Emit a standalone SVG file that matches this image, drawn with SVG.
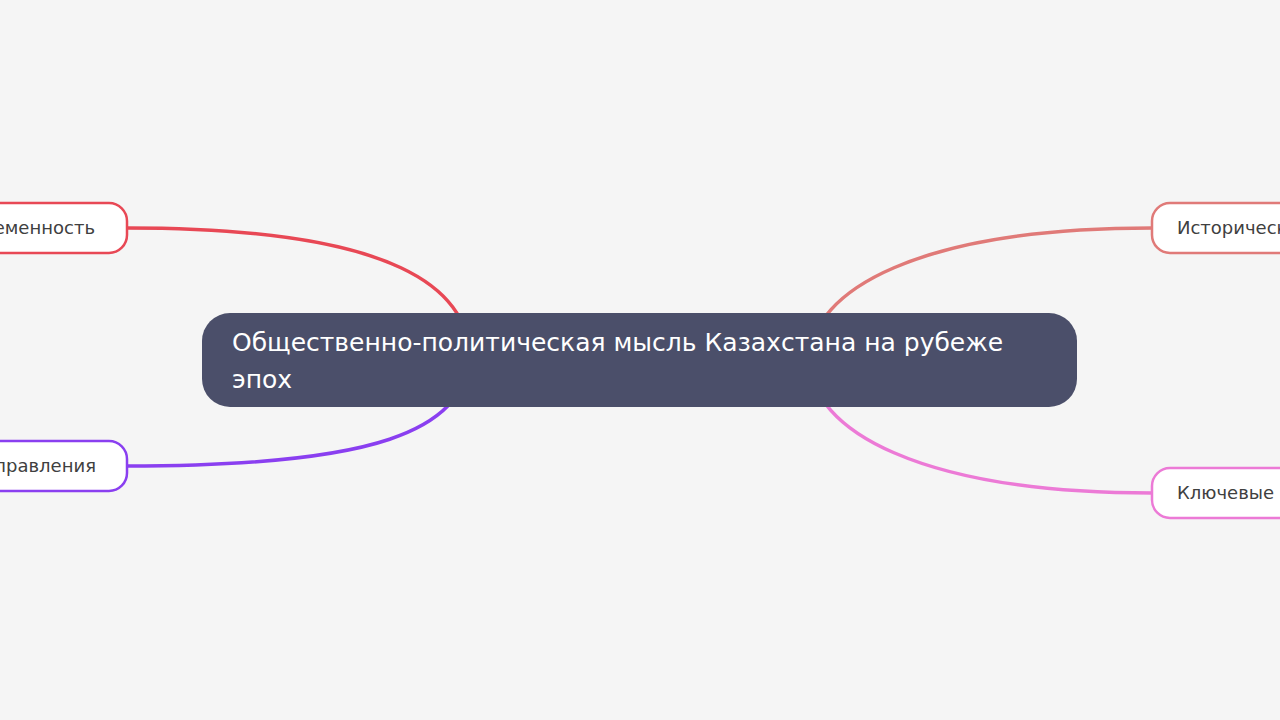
<svg xmlns="http://www.w3.org/2000/svg" width="1280" height="720" viewBox="0 0 1280 720">
<style>
.bg{fill:#f5f5f5}
.link{fill:none;stroke-width:3.5;stroke-linecap:round}
.child rect{fill:#ffffff;stroke-width:2.5}
.child text{font-family:"DejaVu Sans",sans-serif;font-size:18px;fill:#404040}
.root rect{fill:#4b4f6a}
.root text{font-family:"DejaVu Sans",sans-serif;font-size:25px;fill:#ffffff}
</style>
<rect class="bg" x="0" y="0" width="1280" height="720"/>
<g id="connectors">
<path class="link" stroke="#e84855" d="M127,228 C400,228 470,290 470,360"/>
<path class="link" stroke="#8a3ff0" d="M127,466 C380,466 460,430 470,360"/>
<path class="link" stroke="#e07a78" d="M1152,228 C920,228 810,290 810,360"/>
<path class="link" stroke="#ec7ad6" d="M1152,493 C920,493 810,430 810,360"/>
</g>
<g id="node-root" class="root">
<rect x="202" y="313" width="875" height="94" rx="28" ry="28"/>
<text x="232" y="351">Общественно-политическая мысль Казахстана на рубеже</text>
<text x="232" y="388">эпох</text>
</g>
<g id="node-left-top" class="child">
<rect x="-200" y="203" width="327" height="50" rx="18" ry="18" stroke="#e84855"/>
<text x="95" y="234" text-anchor="end">еменность</text>
</g>
<g id="node-left-bottom" class="child">
<rect x="-200" y="441" width="327" height="50" rx="18" ry="18" stroke="#8a3ff0"/>
<text x="96" y="472" text-anchor="end">правления</text>
</g>
<g id="node-right-top" class="child">
<rect x="1152" y="203" width="300" height="50" rx="18" ry="18" stroke="#e07a78"/>
<text x="1177" y="234">Историческ</text>
</g>
<g id="node-right-bottom" class="child">
<rect x="1152" y="468" width="300" height="50" rx="18" ry="18" stroke="#ec7ad6"/>
<text x="1177" y="499">Ключевые</text>
</g>
</svg>
